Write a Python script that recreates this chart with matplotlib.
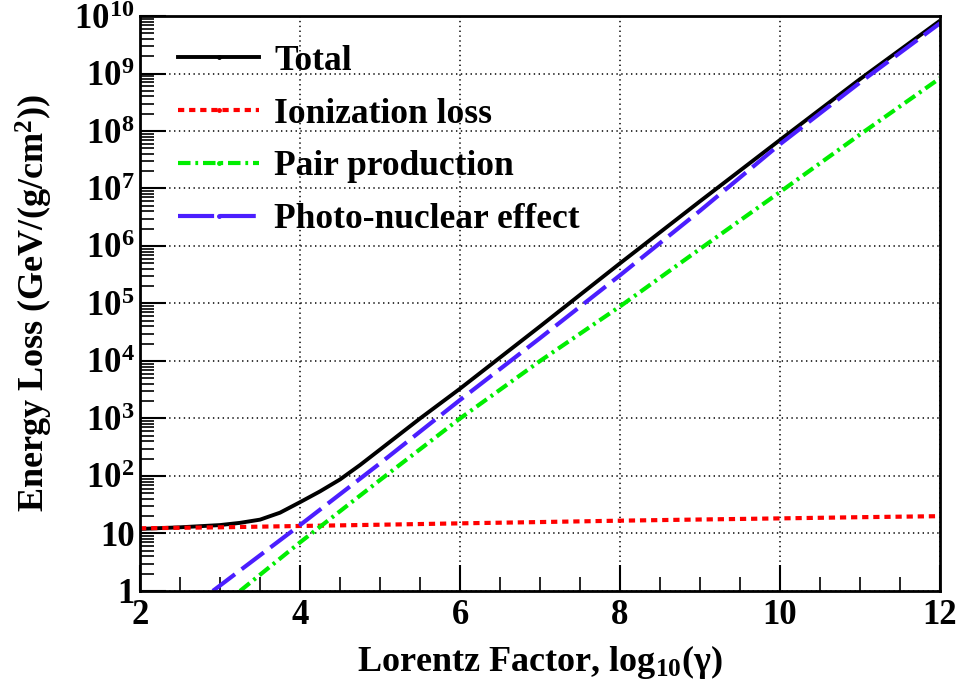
import numpy as np
import matplotlib
matplotlib.use('Agg')
import matplotlib.pyplot as plt
from matplotlib.lines import Line2D
from matplotlib.ticker import FixedLocator, LogLocator, FuncFormatter, NullFormatter

plt.rcParams['font.family'] = ['Liberation Serif', 'DejaVu Serif']
plt.rcParams['font.weight'] = 'bold'
plt.rcParams['mathtext.fontset'] = 'custom'
plt.rcParams['mathtext.rm'] = 'Liberation Serif:bold'
plt.rcParams['mathtext.it'] = 'Liberation Serif:bold:italic'
plt.rcParams['mathtext.bf'] = 'Liberation Serif:bold'
plt.rcParams['lines.scale_dashes'] = False

# values (x = log10(gamma), y = energy loss)
x_total = [2, 2.5, 3, 3.25, 3.5, 3.75, 4, 4.25, 4.5, 4.75, 5, 5.25, 5.5, 6,
           7, 8, 9, 10, 11, 12]
y_total = [12.0, 12.8, 14.0, 15.3, 17.4, 23, 35, 54, 87, 155, 288, 537,
           1.0e3, 3.3e3, 4.0e4, 5.0e5, 6.0e6, 7.0e7, 8.0e8, 8.3e9]

x_ion = [2, 3, 4, 5, 6, 7, 8, 9, 10, 11, 12]
y_ion = [12.3, 12.8, 13.5, 14.2, 15.0, 15.8, 16.7, 17.5, 18.3, 19.2, 20.0]

x_pair = [3.25, 4, 5, 6, 7, 8, 9, 10, 11, 12]
y_pair = [1.0, 7.0, 85, 1.0e3, 1.0e4, 8.9e4, 8.9e5, 8.7e6, 8.7e7, 8.3e8]

x_photo = [2.91, 4, 5, 6, 7, 8, 9, 10, 11, 12]
y_photo = [1.0, 14.0, 166, 2.1e3, 2.5e4, 3.1e5, 4.1e6, 5.9e7, 7.0e8, 7.5e9]

fig = plt.figure(figsize=(9.61, 6.96), dpi=100)
ax = fig.add_axes([0.1457, 0.1509, 0.8325, 0.8261])

ax.plot(x_total, y_total, color='black', lw=2.8, solid_capstyle='butt',
        solid_joinstyle='round')
ax.plot(x_ion, y_ion, color='#ff0000', lw=3.0, linestyle=(0, (4.5, 3.5)))
ax.plot(x_pair, y_pair, color='#00ee00', lw=3.0,
        linestyle=(0, (9, 3.5, 2, 3.5)))
ax.plot(x_photo, y_photo, color='#4b1eff', lw=3.0, linestyle=(0, (20, 6)))

ax.set_yscale('log')
ax.set_xlim(2, 12)
ax.set_ylim(1, 1e10)

ax.xaxis.set_major_locator(FixedLocator([2, 4, 6, 8, 10, 12]))
ax.xaxis.set_minor_locator(FixedLocator(np.arange(2, 12.01, 0.5)))
ax.yaxis.set_major_locator(LogLocator(base=10, numticks=20))
ax.yaxis.set_minor_locator(LogLocator(base=10, subs=np.arange(2, 10), numticks=20))
ax.yaxis.set_minor_formatter(NullFormatter())


def ylab(v, pos):
    n = int(round(np.log10(v)))
    if n == 0:
        return '1'
    if n == 1:
        return '10'
    return '$10^{%d}$' % n


ax.yaxis.set_major_formatter(FuncFormatter(ylab))
ax.xaxis.set_major_formatter(FuncFormatter(lambda v, p: '%d' % v))

ax.tick_params(which='major', direction='in', length=19, width=1.5,
               labelsize=25, top=False, right=False)
ax.tick_params(which='minor', direction='in', length=10, width=1.2,
               top=False, right=False)
ax.tick_params(axis='x', pad=6)
ax.tick_params(axis='y', pad=4)
for s in ax.spines.values():
    s.set_linewidth(2)

ax.grid(True, which='major', color='black', linestyle=(0, (1, 2.5)), lw=1.1)

ax.set_xlabel('Lorentz Factor, log$_{10}$(γ)', fontsize=26, fontweight='bold',
              labelpad=8)
ax.set_ylabel('Energy Loss (GeV/(g/cm$^{2}$))', fontsize=26, fontweight='bold',
              labelpad=14)

handles = [
    Line2D([], [], color='black', lw=2.8, marker='o', markersize=2.5),
    Line2D([], [], color='#ff0000', lw=3.0, linestyle=(0, (4.5, 3.5)),
           marker='o', markersize=2.5),
    Line2D([], [], color='#00ee00', lw=3.0, linestyle=(0, (9, 3.5, 2, 3.5)),
           marker='o', markersize=2.5),
    Line2D([], [], color='#4b1eff', lw=3.0, linestyle=(0, (26, 4)),
           marker='o', markersize=2.5),
]
labels = ['Total', 'Ionization loss', 'Pair production', 'Photo-nuclear effect']
leg = ax.legend(handles, labels, loc='upper left', bbox_to_anchor=(0.0475, 0.95),
                frameon=False, fontsize=25.5, handlelength=2.3, handletextpad=0.42,
                labelspacing=0.56, numpoints=1, borderaxespad=0, borderpad=0)
for t in leg.get_texts():
    t.set_fontweight('bold')

fig.savefig('out.png', dpi=100, facecolor='white')
